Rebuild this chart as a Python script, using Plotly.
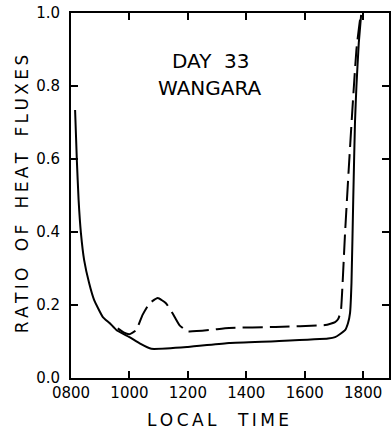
import plotly.graph_objects as go

# Local time in decimal hours
solid_t = [8.14, 8.20, 8.26, 8.34, 8.45, 8.62, 8.79, 9.09, 9.33, 9.56, 10.0, 10.35, 10.75,
           12.0, 13.41, 15.0, 16.8, 17.04, 17.2, 17.38, 17.48, 17.55, 17.6, 17.66,
           17.72, 17.77, 17.85, 17.93]
solid_v = [0.734, 0.597, 0.488, 0.397, 0.323, 0.26, 0.214, 0.167, 0.150, 0.131, 0.112, 0.095, 0.080,
           0.085, 0.096, 0.101, 0.108, 0.112, 0.12, 0.131, 0.15, 0.178, 0.26, 0.488,
           0.70, 0.80, 0.918, 0.995]

dash_t = [9.60, 9.80, 10.0, 10.23, 10.45, 10.69, 10.97, 11.25, 11.47, 11.71, 11.99,
          13.41, 15.0, 16.7, 17.04, 17.15, 17.24, 17.29, 17.38, 17.51, 17.63, 17.77, 17.89, 17.93]
dash_v = [0.136, 0.125, 0.12, 0.131, 0.173, 0.205, 0.219, 0.205, 0.178, 0.145, 0.128,
          0.137, 0.140, 0.145, 0.153, 0.162, 0.186, 0.25, 0.397, 0.578, 0.734, 0.90, 0.98, 0.995]

x_tickvals = [8, 10, 12, 14, 16, 18]
x_ticktext = ["0800", "1000", "1200", "1400", "1600", "1800"]
y_tickvals = [0.0, 0.2, 0.4, 0.6, 0.8, 1.0]
y_ticktext = ["0.0", "0.2", "0.4", "0.6", "0.8", "1.0"]

FONT = "DejaVu Sans"
THIN = "\u2009"


def tracked(text, word_gap):
    return word_gap.join(THIN.join(w) for w in text.split(" "))


fig = go.Figure()
fig.add_trace(go.Scatter(x=solid_t, y=solid_v, mode="lines",
                         line=dict(color="black", width=2, shape="spline", smoothing=0.4),
                         showlegend=False, hoverinfo="skip"))
fig.add_trace(go.Scatter(x=dash_t, y=dash_v, mode="lines",
                         line=dict(color="black", width=2, dash="20px,7px", shape="spline", smoothing=0.4),
                         showlegend=False, hoverinfo="skip"))

axis_common = dict(showline=True, linecolor="black", linewidth=2, mirror="ticks",
                   ticks="inside", ticklen=7, tickwidth=1.5, tickcolor="black",
                   showgrid=False, zeroline=False,
                   tickfont=dict(family=FONT, size=15, color="black"))

fig.update_xaxes(range=[8, 8 + 320 / 29.4], tickvals=x_tickvals, ticktext=x_ticktext,
                 ticklabelstandoff=0, **axis_common)
fig.update_yaxes(range=[0, 1], tickvals=y_tickvals, ticktext=y_ticktext,
                 ticklabelstandoff=6, **axis_common)

ann = dict(xref="paper", yref="paper", showarrow=False, xanchor="center", yanchor="middle")
fig.add_annotation(text="DAY  33", x=(212 - 71) / 320, y=(378 - 61) / 365,
                   font=dict(family=FONT, size=20, color="black"), **ann)
fig.add_annotation(text="WANGARA", x=(211 - 71) / 320, y=(378 - 88) / 365,
                   font=dict(family=FONT, size=20, color="black"), **ann)
fig.add_annotation(text=tracked("LOCAL TIME", "    "), x=(219 - 71) / 320, y=(378 - 420) / 365,
                   font=dict(family=FONT, size=17, color="black"), **ann)
fig.add_annotation(text=tracked("RATIO OF HEAT FLUXES", "   "), textangle=-90,
                   x=(22 - 71) / 320, y=(378 - 194) / 365,
                   font=dict(family=FONT, size=17, color="black"), **ann)

fig.update_layout(width=392, height=431, margin=dict(l=71, r=1, t=13, b=53),
                  paper_bgcolor="white", plot_bgcolor="white")

fig.write_html("out.html")
